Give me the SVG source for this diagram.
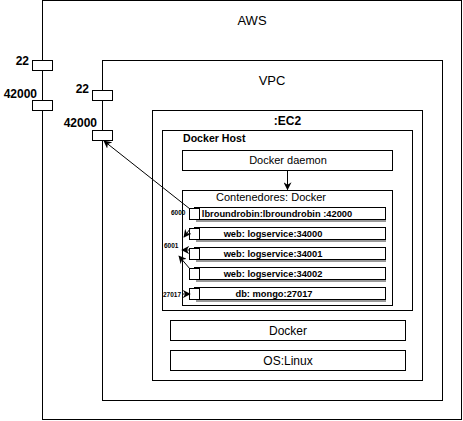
<svg xmlns="http://www.w3.org/2000/svg" width="463" height="421" viewBox="0 0 463 421">
<style>
text{font-family:"Liberation Sans",Arial,Helvetica,sans-serif;fill:#000}
.box{fill:#fff;stroke:#000;stroke-width:1}
.port{fill:#fff;stroke:#000;stroke-width:1}
.b{font-weight:bold}
.c{text-anchor:middle}
.pl{font-size:12px;font-weight:bold;text-anchor:end}
.row{fill:#fff;stroke:#000;stroke-width:1}
.sh{stroke:#999;stroke-width:2}
.rt{font-size:9.3px;font-weight:bold;text-anchor:middle}
.sm{font-size:6.5px;font-weight:bold}
.edge{fill:none;stroke:#000;stroke-width:1}
</style>
<defs>
<marker id="ah" viewBox="0 0 10 10" refX="9" refY="5" markerWidth="8" markerHeight="8" orient="auto" markerUnits="userSpaceOnUse">
<path d="M0,0 L10,5 L0,10 L3,5 Z" fill="#000"/>
</marker>
</defs>
<rect width="463" height="421" fill="#fff"/>
<g id="aws">
<rect class="box" x="42.5" y="0.5" width="419" height="419"/>
<text class="c" x="252" y="25" font-size="13">AWS</text>
<rect class="port" x="32.5" y="60.5" width="20" height="10"/>
<rect class="port" x="32.5" y="100.5" width="20" height="10"/>
<text class="pl" x="29" y="65">22</text>
<text class="pl" x="37" y="98">42000</text>
</g>
<g id="vpc">
<rect class="box" x="102.5" y="60.5" width="340" height="340"/>
<text class="c" x="272" y="85" font-size="13">VPC</text>
<rect class="port" x="92.5" y="90.5" width="20" height="10"/>
<rect class="port" x="92.5" y="130.5" width="20" height="10"/>
<text class="pl" x="89" y="93">22</text>
<text class="pl" x="97" y="127">42000</text>
</g>
<g id="ec2">
<rect class="box" x="152.5" y="110.5" width="270" height="270"/>
<text class="c b" x="287.5" y="125" font-size="12">:EC2</text>
</g>
<g id="docker-host">
<rect class="box" x="162.5" y="130.5" width="250" height="180"/>
<text class="b" x="183" y="142" font-size="10.6">Docker Host</text>
</g>
<g id="docker-daemon">
<rect class="box" x="182.5" y="150.5" width="210" height="20"/>
<text class="c" x="288" y="164" font-size="11">Docker daemon</text>
</g>
<g id="contenedores">
<rect class="box" x="182.5" y="190.5" width="210" height="115"/>
<text class="c" x="271" y="201" font-size="11">Contenedores: Docker</text>
</g>
<g id="row-lbroundrobin">
<line class="sh" x1="196" y1="221" x2="386" y2="221"/>
<rect class="row" x="194.5" y="207.5" width="191" height="12"/>
<rect class="port" x="189.5" y="208.5" width="10" height="11"/>
<text class="rt" x="277" y="217">lbroundrobin:lbroundrobin :42000</text>
</g>
<g id="row-web1">
<line class="sh" x1="196" y1="241" x2="386" y2="241"/>
<rect class="row" x="194.5" y="227.5" width="191" height="12"/>
<rect class="port" x="189.5" y="228.5" width="10" height="11"/>
<text class="rt" x="273" y="237">web: logservice:34000</text>
</g>
<g id="row-web2">
<line class="sh" x1="196" y1="261" x2="386" y2="261"/>
<rect class="row" x="194.5" y="247.5" width="191" height="12"/>
<rect class="port" x="189.5" y="248.5" width="10" height="11"/>
<text class="rt" x="273" y="257">web: logservice:34001</text>
</g>
<g id="row-web3">
<line class="sh" x1="196" y1="281" x2="386" y2="281"/>
<rect class="row" x="194.5" y="267.5" width="191" height="12"/>
<rect class="port" x="189.5" y="268.5" width="10" height="11"/>
<text class="rt" x="273" y="277">web: logservice:34002</text>
</g>
<g id="row-db">
<line class="sh" x1="196" y1="301" x2="386" y2="301"/>
<rect class="row" x="194.5" y="287.5" width="191" height="12"/>
<rect class="port" x="189.5" y="288.5" width="10" height="11"/>
<text class="rt" x="274" y="297">db: mongo:27017</text>
</g>
<g id="docker">
<rect class="box" x="170.5" y="320.5" width="235" height="20"/>
<text class="c" x="288" y="335" font-size="12">Docker</text>
</g>
<g id="os-linux">
<rect class="box" x="170.5" y="350.5" width="235" height="20"/>
<text class="c" x="288" y="365" font-size="12">OS:Linux</text>
</g>
<g id="connectors">
<line class="edge" x1="287.5" y1="170.5" x2="287.5" y2="189.5" marker-end="url(#ah)"/>
<line class="edge" x1="190" y1="209" x2="104" y2="141" marker-end="url(#ah)"/>
<line class="edge" x1="190" y1="229" x2="184" y2="237" marker-end="url(#ah)"/>
<line class="edge" x1="190" y1="250" x2="182" y2="250" marker-end="url(#ah)"/>
<line class="edge" x1="190" y1="269" x2="179" y2="256" marker-end="url(#ah)"/>
<line class="edge" x1="183" y1="294" x2="190" y2="294" marker-end="url(#ah)"/>
<text class="sm" x="171" y="214.5">6000</text>
<text class="sm" x="164" y="247.5">6001</text>
<text class="sm" x="163" y="296.5">27017</text>
</g>
</svg>
